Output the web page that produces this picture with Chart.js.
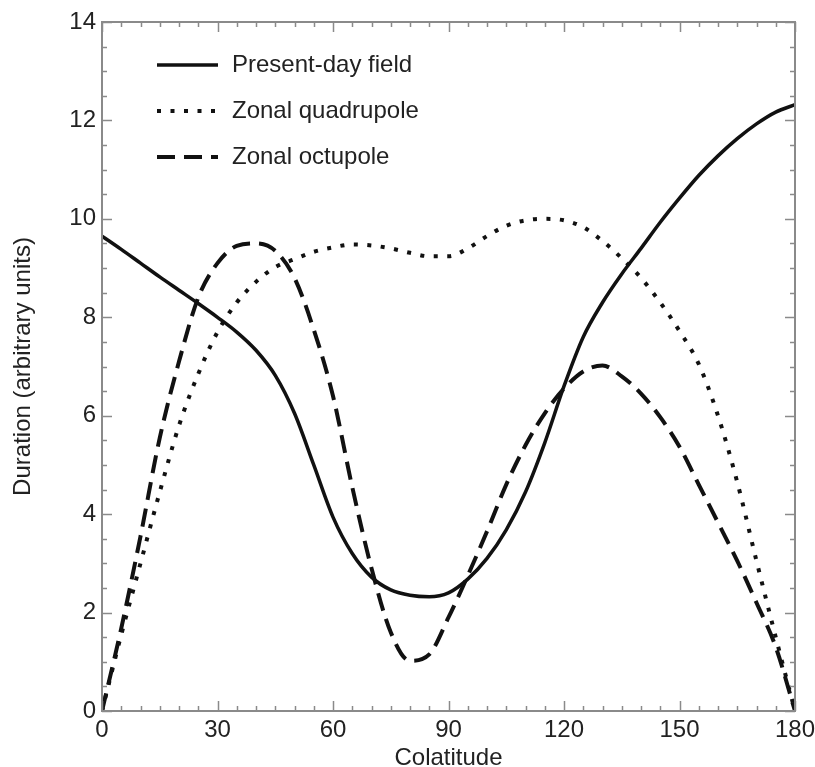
<!DOCTYPE html>
<html>
<head>
<meta charset="utf-8">
<script src="https://cdn.jsdelivr.net/npm/chart.js@4/dist/chart.umd.min.js"></script>
<style>
  html, body { margin: 0; padding: 0; background: #fff; }
  #wrap { width: 815px; height: 767px; position: relative; }
</style>
</head>
<body>
<div id="wrap"><canvas id="c" width="815" height="767"></canvas></div>
<script>
// ---- data ----
const colatitude = [0,5,10,15,20,25,30,35,40,45,50,55,60,65,70,75,80,85,90,95,100,105,110,115,120,125,130,135,140,145,150,155,160,165,170,175,180];
const presentDayField = [9.65,9.38,9.1,8.82,8.55,8.28,8.0,7.7,7.33,6.82,6.05,5.0,3.94,3.2,2.72,2.46,2.35,2.32,2.4,2.68,3.1,3.68,4.45,5.45,6.6,7.6,8.3,8.88,9.4,9.93,10.42,10.88,11.28,11.63,11.93,12.17,12.32];
const zonalQuadrupole = [0,1.55,3.0,4.45,5.8,6.85,7.7,8.3,8.72,9.02,9.18,9.33,9.42,9.48,9.46,9.4,9.31,9.24,9.24,9.4,9.65,9.86,9.97,10.0,9.97,9.83,9.55,9.2,8.8,8.3,7.72,7.05,6.0,4.65,3.05,1.5,0];
const zonalOctupole = [0,1.68,3.55,5.55,7.1,8.4,9.1,9.45,9.5,9.35,8.8,7.75,6.4,4.55,2.9,1.6,1.02,1.15,1.9,2.75,3.65,4.6,5.4,6.05,6.55,6.9,7.02,6.8,6.45,5.97,5.37,4.6,3.83,3.05,2.2,1.3,0];
const seriesLabels = ['Present-day field','Zonal quadrupole','Zonal octupole'];
const xTickValues = [0,30,60,90,120,150,180];
const yTickValues = [0,2,4,6,8,10,12,14];

const FONT = "'Liberation Sans', Arial, Helvetica, sans-serif";
const TEXT = '#222';
const AXIS = '#8a8a8a';

function pts(ys) { return colatitude.map((x, i) => ({ x: x, y: ys[i] })); }

const boxAndTicks = {
  id: 'boxAndTicks',
  afterDraw(chart) {
    const { ctx, chartArea: a, scales } = chart;
    const xs = scales.x, ys = scales.y;
    ctx.save();
    ctx.strokeStyle = AXIS;
    ctx.lineWidth = 2;
    ctx.strokeRect(a.left, a.top, a.right - a.left, a.bottom - a.top);
    ctx.lineWidth = 1.5;
    ctx.beginPath();
    for (let v = 0; v <= 180; v += 5) {
      const px = Math.round(xs.getPixelForValue(v)) + 0.5;
      const len = v % 30 === 0 ? 10 : 5;
      ctx.moveTo(px, a.bottom); ctx.lineTo(px, a.bottom - len);
      ctx.moveTo(px, a.top); ctx.lineTo(px, a.top + len);
    }
    for (let v = 0; v <= 14.001; v += 0.5) {
      const py = Math.round(ys.getPixelForValue(v)) + 0.5;
      const len = Math.abs(v % 2) < 1e-6 ? 10 : 5;
      ctx.moveTo(a.left, py); ctx.lineTo(a.left + len, py);
      ctx.moveTo(a.right, py); ctx.lineTo(a.right - len, py);
    }
    ctx.stroke();
    ctx.restore();
  }
};

const insideLegend = {
  id: 'insideLegend',
  afterDatasetsDraw(chart) {
    const { ctx, chartArea: a } = chart;
    ctx.save();
    const x0 = a.left + 55, x1 = a.left + 116, tx = a.left + 130;
    chart.data.datasets.forEach((ds, i) => {
      const y = a.top + 43 + i * 46;
      ctx.strokeStyle = ds.borderColor;
      ctx.lineWidth = ds.borderWidth;
      ctx.lineCap = 'butt';
      ctx.setLineDash(ds.borderDash || []);
      ctx.beginPath(); ctx.moveTo(x0, y); ctx.lineTo(x1, y); ctx.stroke();
      ctx.setLineDash([]);
      ctx.fillStyle = TEXT;
      ctx.font = '24px ' + FONT;
      ctx.textBaseline = 'middle';
      ctx.textAlign = 'left';
      ctx.fillText(ds.label, tx, y);
    });
    ctx.restore();
  }
};

new Chart(document.getElementById('c'), {
  type: 'line',
  data: {
    datasets: [
      { label: seriesLabels[0], data: pts(presentDayField), borderColor: '#111', borderWidth: 3.5, borderDash: [], pointRadius: 0, fill: false, cubicInterpolationMode: 'monotone' },
      { label: seriesLabels[1], data: pts(zonalQuadrupole), borderColor: '#111', borderWidth: 4, borderDash: [4, 9.5], pointRadius: 0, fill: false, cubicInterpolationMode: 'monotone' },
      { label: seriesLabels[2], data: pts(zonalOctupole), borderColor: '#111', borderWidth: 4, borderDash: [18, 9], pointRadius: 0, fill: false, cubicInterpolationMode: 'monotone' }
    ]
  },
  options: {
    responsive: false,
    animation: false,
    events: [],
    layout: { padding: { top: 22, right: 0, left: 0, bottom: 0 } },
    plugins: { legend: { display: false }, tooltip: { enabled: false } },
    scales: {
      x: {
        type: 'linear', min: 0, max: 180,
        afterFit(s) { s.height = 56; s.paddingRight = 20; s.paddingLeft = 0; },
        afterBuildTicks(s) { s.ticks = xTickValues.map(v => ({ value: v })); },
        grid: { display: false, drawTicks: false },
        border: { display: false },
        ticks: { color: TEXT, font: { family: FONT, size: 24 }, padding: 5, maxRotation: 0 },
        title: { display: true, text: 'Colatitude', color: TEXT, font: { family: FONT, size: 24 }, padding: { top: 0, bottom: -6 } }
      },
      y: {
        type: 'linear', min: 0, max: 14,
        afterFit(s) { s.width = 102; s.paddingTop = 0; s.paddingBottom = 0; },
        afterBuildTicks(s) { s.ticks = yTickValues.map(v => ({ value: v })); },
        grid: { display: false, drawTicks: false },
        border: { display: false },
        ticks: { color: TEXT, font: { family: FONT, size: 24 }, padding: 6 },
        title: { display: true, text: 'Duration (arbitrary units)', color: TEXT, font: { family: FONT, size: 24 }, padding: { top: 9, bottom: 0 } }
      }
    }
  },
  plugins: [boxAndTicks, insideLegend]
});
</script>
</body>
</html>
